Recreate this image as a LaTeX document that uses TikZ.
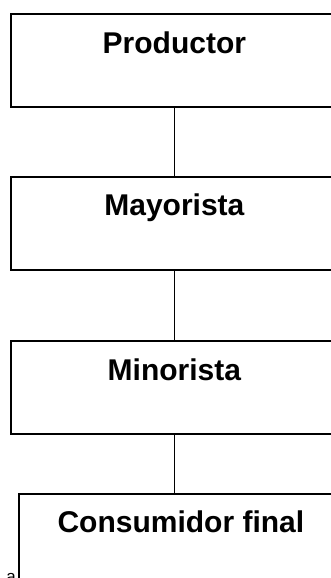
\documentclass[tikz,border=0pt]{standalone}
\usepackage{fontspec}
\setmainfont{Liberation Sans}
\begin{document}
\begin{tikzpicture}[x=1pt,y=-1pt,
  box/.style={draw=black, line width=1.8pt, rectangle, minimum height=93pt, inner sep=0pt, anchor=north west},
  lbl/.style={font=\fontsize{30}{36}\selectfont\bfseries, anchor=base, inner sep=0pt},
  conn/.style={draw=black, line width=1.2pt}]
\useasboundingbox (0,0) rectangle (331,578);
\node[box, minimum width=327pt] (b1) at (10,13) {};
\node[box, minimum width=327pt] (b2) at (10,176) {};
\node[box, minimum width=327pt] (b3) at (10,340) {};
\node[box, minimum width=324pt] (b4) at (18,493) {};
\node[lbl] (t1) at ([yshift=-40pt]b1.north) {Productor};
\node[lbl] (t2) at ([yshift=-39pt]b2.north) {Mayorista};
\node[lbl] (t3) at ([yshift=-40pt]b3.north) {Minorista};
\node[lbl] (t4) at ([yshift=-39pt]b4.north) {Consumidor final};
\draw[conn] (b1.south) -- (b2.north);
\draw[conn] (b2.south) -- (b3.north);
\draw[conn] (b3.south) -- (b3.south |- b4.north);
\node[font=\fontsize{17}{20}\selectfont, anchor=base east, inner sep=0pt] (frag) at (16,582) {a};
\end{tikzpicture}
\end{document}
